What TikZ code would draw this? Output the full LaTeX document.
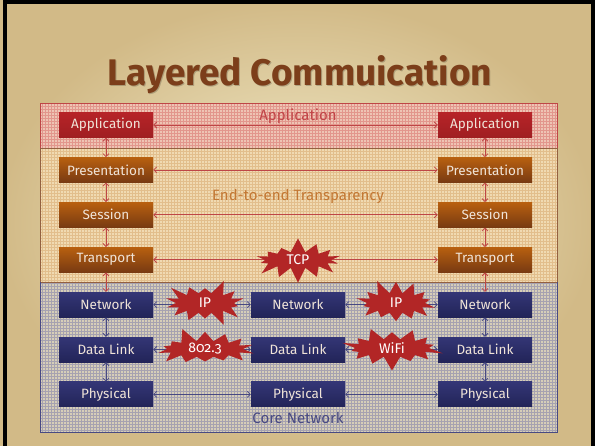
\documentclass[tikz,border=0pt]{standalone}
\usepackage{fontspec}
\setmainfont{Fira Sans}[Numbers=OldStyle]
\usepackage{xcolor}
\usetikzlibrary{positioning,arrows.meta,shapes.symbols,patterns}
\definecolor{bgin}{RGB}{244,238,206}
\definecolor{bgout}{RGB}{210,186,135}
\definecolor{titlebrown}{RGB}{124,62,26}
\definecolor{appband}{RGB}{238,196,180}
\definecolor{appgrid}{RGB}{226,150,140}
\definecolor{appline}{RGB}{190,70,70}
\definecolor{midband}{RGB}{240,218,178}
\definecolor{midgrid}{RGB}{226,190,140}
\definecolor{coreband}{RGB}{214,206,184}
\definecolor{coregrid}{RGB}{166,162,176}
\definecolor{coreline}{RGB}{72,74,130}
\definecolor{appred}{RGB}{182,36,40}
\definecolor{appreddark}{RGB}{160,30,34}
\definecolor{sesstop}{RGB}{184,96,16}
\definecolor{sessbot}{RGB}{120,58,18}
\definecolor{nettop}{RGB}{52,54,118}
\definecolor{netbot}{RGB}{34,36,88}
\definecolor{boxtext}{RGB}{240,228,216}
\definecolor{burstred}{RGB}{178,38,38}

\tikzset{
  layer/.style={minimum width=94pt, minimum height=25pt, inner sep=0pt,
    text=boxtext, font=\fontsize{13.5}{15}\selectfont},
  apptop/.style={layer, top color=appred, bottom color=appreddark},
  endbox/.style={layer, top color=sesstop, bottom color=sessbot},
  corebox/.style={layer, top color=nettop, bottom color=netbot},
  burst/.style={starburst, starburst points=14, starburst point height=15pt,
    random starburst=#1, fill=burstred, text=white, inner sep=0pt,
    minimum width=88pt, minimum height=50pt, font=\fontsize{14}{15}\selectfont},
  peer/.style={{Straight Barb[length=3pt,width=6pt]}-{Straight Barb[length=3pt,width=6pt]}, line width=0.8pt},
  bandtext/.style={font=\fontsize{15}{17}\selectfont}
}

\begin{document}
\begin{tikzpicture}[x=1pt, y=-1pt, node distance=19.5pt]
  \useasboundingbox (0,0) rectangle (595,445);
  \fill[inner color=bgin, outer color=bgout] (0,0) rectangle (595,445);
  \draw[line width=3.5pt] (5,460) |- (593,2) -- (593,460);

  % title
  \node[text=black, opacity=0.2, font=\fontsize{37}{40}\selectfont\bfseries] at (301,76) {Layered Commuication};
  \node[text=titlebrown, font=\fontsize{37}{40}\selectfont\bfseries] (title) at (300,75) {Layered Commuication};

  % bands
  \fill[appband] (40,103) rectangle (557,148);
  \fill[pattern=grid, pattern color=appgrid] (40,103) rectangle (557,148);
  \fill[midband] (40,148) rectangle (557,282);
  \fill[pattern=grid, pattern color=midgrid] (40,148) rectangle (557,282);
  \fill[coreband] (40,282) rectangle (557,432);
  \fill[pattern=grid, pattern color=coregrid] (40,282) rectangle (557,432);
  \draw[appline, line width=0.8pt] (40,148) |- (557,103) -- (557,148);
  \draw[sessbot!80, line width=0.8pt] (40,148) -- (557,148) (40,282) -- (557,282)
    (40,148) -- (40,282) (557,148) -- (557,282);
  \draw[coreline, line width=0.8pt] (40,282) |- (557,432) -- (557,282);

  \node[bandtext, text=appred!85] (lblapp) at (298,116) {Application};
  \node[bandtext, text=sesstop!85] (lblend) at (298,196) {End-to-end Transparency};
  \node[bandtext, text=coreline] (lblcore) at (298,418) {Core Network};

  % host A
  \node[apptop] (appA) at (106,125) {Application};
  \node[endbox, below=of appA] (presA) {Presentation};
  \node[endbox, below=of presA] (sessA) {Session};
  \node[endbox, below=of sessA] (transA) {Transport};
  \node[corebox, below=of transA] (netA) {Network};
  \node[corebox, below=of netA] (linkA) {Data Link};
  \node[corebox, below=of linkA] (physA) {Physical};

  % router
  \node[corebox] (netR) at (netA -| lblapp) {Network};
  \node[corebox] (linkR) at (linkA -| lblapp) {Data Link};
  \node[corebox] (physR) at (physA -| lblapp) {Physical};

  % host B
  \node[apptop] (appB) at (485,125) {Application};
  \node[endbox, below=of appB] (presB) {Presentation};
  \node[endbox, below=of presB] (sessB) {Session};
  \node[endbox, below=of sessB] (transB) {Transport};
  \node[corebox, below=of transB] (netB) {Network};
  \node[corebox, below=of netB] (linkB) {Data Link};
  \node[corebox, below=of linkB] (physB) {Physical};

  % peer links
  \begin{scope}[appline]
    \draw[peer] (appA) -- (appB);
    \draw[peer] (presA) -- (presB);
    \draw[peer] (sessA) -- (sessB);
    \draw[peer] (transA) -- (transB);
    \foreach \h in {A,B} {
      \draw[peer] (app\h) -- (pres\h);
      \draw[peer] (pres\h) -- (sess\h);
      \draw[peer] (sess\h) -- (trans\h);
      \draw[peer] (trans\h) -- (net\h);
    }
  \end{scope}
  \begin{scope}[coreline]
    \foreach \l in {net,link,phys} {
      \draw[peer] (\l A) -- (\l R);
      \draw[peer] (\l R) -- (\l B);
    }
    \foreach \h in {A,B} {
      \draw[peer] (net\h) -- (link\h);
      \draw[peer] (link\h) -- (phys\h);
    }
  \end{scope}

  % protocols
  \node[burst=7, minimum width=96pt, minimum height=46pt] (tcp) at (298,260) {TCP};
  \node[burst=3] (ipA) at (205,303) {IP};
  \node[burst=11] (ipB) at (396,303) {IP};
  \node[burst=5, minimum width=106pt, minimum height=46pt] (ether) at (205,349) {802.3};
  \node[burst=9, minimum width=104pt, minimum height=48pt] (wifi) at (392,348) {WiFi};
\end{tikzpicture}
\end{document}
